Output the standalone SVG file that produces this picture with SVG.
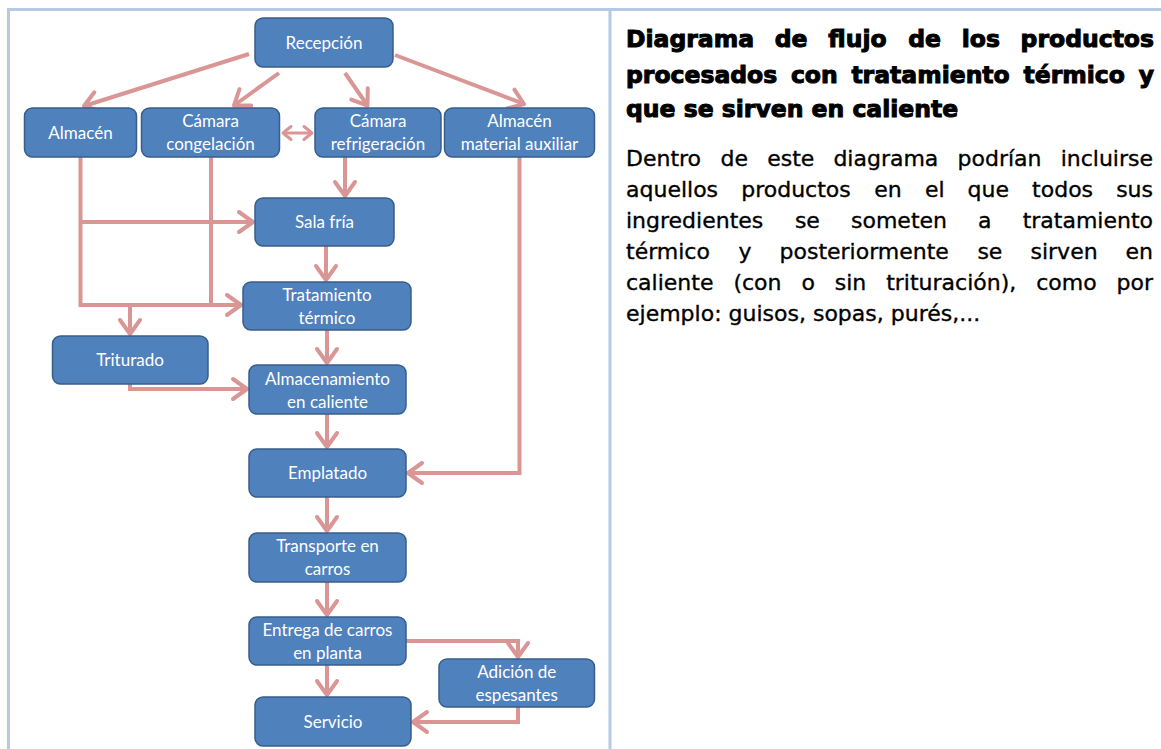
<svg xmlns="http://www.w3.org/2000/svg" width="1161" height="749" viewBox="0 0 1161 749">
<style>
.node rect{fill:#4f81bd;stroke:#385d8a;stroke-width:1.5}
.node text{font-family:Lato,"Liberation Sans",sans-serif;font-size:17px;fill:#ffffff;text-anchor:middle}
.conn path{fill:none;stroke:#d99694;stroke-width:4;stroke-linejoin:miter}
.conn .thin{stroke-width:3}
.ah{fill:none;stroke:#d99694;stroke-width:4;stroke-linejoin:round;stroke-linecap:round}
.ahs{fill:none;stroke:#d99694;stroke-width:3;stroke-linejoin:round;stroke-linecap:round}
.frame{stroke:#b4c9e3;stroke-width:3;fill:none}
.title{font-family:"DejaVu Sans",sans-serif;font-weight:bold;font-size:23.5px;fill:#000;stroke:#000;stroke-width:1}
.body{font-family:"DejaVu Sans",sans-serif;font-size:22px;fill:#000;stroke:#000;stroke-width:0.35}
</style>
<defs>
<marker id="arr" viewBox="-17 -13 20 26" refX="0" refY="0" markerWidth="20" markerHeight="26" markerUnits="userSpaceOnUse" orient="auto">
<path class="ah" d="M-14,-10 L0,0 L-14,10"/>
</marker>
<marker id="arrs" viewBox="-11 -9 14 18" refX="0" refY="0" markerWidth="14" markerHeight="18" markerUnits="userSpaceOnUse" orient="auto-start-reverse">
<path class="ahs" d="M-8,-6.5 L0,0 L-8,6.5"/>
</marker>
</defs>
<rect width="1161" height="749" fill="#ffffff"/>
<g id="frame">
<line class="frame" x1="7" y1="9.5" x2="1161" y2="9.5"/>
<line class="frame" x1="8.5" y1="8" x2="8.5" y2="749"/>
<line class="frame" x1="610" y1="8" x2="610" y2="749"/>
</g>
<g id="connectors" class="conn">
<path d="M249,54 L84,106" marker-end="url(#arr)"/>
<path d="M279,73 L234,105.5" marker-end="url(#arr)"/>
<path d="M345,73 L367.5,105.5" marker-end="url(#arr)"/>
<path d="M395,55 L524,104" marker-end="url(#arr)"/>
<path class="thin" d="M283,133 L312,133" marker-start="url(#arrs)" marker-end="url(#arrs)"/>
<path d="M345,157 L345,196" marker-end="url(#arr)"/>
<path d="M80.5,157 L80.5,305 L241,305" marker-end="url(#arr)"/>
<path d="M211,157 L211,305"/>
<path d="M80.5,222 L253,222" marker-end="url(#arr)"/>
<path d="M130,305 L130,334" marker-end="url(#arr)"/>
<path d="M130,384 L130,389 L247,389" marker-end="url(#arr)"/>
<path d="M326,246 L326,280" marker-end="url(#arr)"/>
<path d="M327,330 L327,363" marker-end="url(#arr)"/>
<path d="M327,414 L327,447" marker-end="url(#arr)"/>
<path d="M519.5,157 L519.5,473 L408,473" marker-end="url(#arr)"/>
<path d="M327,497 L327,531" marker-end="url(#arr)"/>
<path d="M327,582 L327,615" marker-end="url(#arr)"/>
<path d="M406,641 L518,641 L518,657" marker-end="url(#arr)"/>
<path d="M327,658 L327,695" marker-end="url(#arr)"/>
<path d="M518,707 L518,722 L413,722" marker-end="url(#arr)"/>
</g>
<g id="recepcion" class="node"><rect x="255" y="18" width="138" height="49" rx="8"/><text x="324" y="48.5">Recepción</text></g>
<g id="almacen" class="node"><rect x="24.5" y="108" width="112" height="49" rx="8"/><text x="80.5" y="138.5">Almacén</text></g>
<g id="camara-congelacion" class="node"><rect x="141.5" y="108" width="138" height="49" rx="8"/><text x="210.5" y="127">Cámara</text><text x="210.5" y="150">congelación</text></g>
<g id="camara-refrigeracion" class="node"><rect x="315" y="108" width="126" height="49" rx="8"/><text x="378" y="127">Cámara</text><text x="378" y="150">refrigeración</text></g>
<g id="almacen-auxiliar" class="node"><rect x="444.5" y="108" width="150" height="49" rx="8"/><text x="519.5" y="127">Almacén</text><text x="519.5" y="150">material auxiliar</text></g>
<g id="sala-fria" class="node"><rect x="255" y="198" width="139" height="48" rx="8"/><text x="324.5" y="228">Sala fría</text></g>
<g id="tratamiento" class="node"><rect x="243" y="282" width="168" height="48" rx="8"/><text x="327" y="301">Tratamiento</text><text x="327" y="324">térmico</text></g>
<g id="triturado" class="node"><rect x="52.5" y="336" width="155.5" height="48" rx="8"/><text x="130" y="366">Triturado</text></g>
<g id="almacenamiento" class="node"><rect x="249" y="365" width="157" height="49" rx="8"/><text x="327.5" y="384.5">Almacenamiento</text><text x="327.5" y="407.5">en caliente</text></g>
<g id="emplatado" class="node"><rect x="249" y="449" width="157" height="48" rx="8"/><text x="327.5" y="479">Emplatado</text></g>
<g id="transporte" class="node"><rect x="249" y="533" width="157" height="49" rx="8"/><text x="327.5" y="552">Transporte en</text><text x="327.5" y="575">carros</text></g>
<g id="entrega" class="node"><rect x="249" y="617" width="157" height="48" rx="8"/><text x="327.5" y="635.5">Entrega de carros</text><text x="327.5" y="658.5">en planta</text></g>
<g id="adicion" class="node"><rect x="439" y="659" width="155.5" height="48" rx="8"/><text x="516.75" y="677.5">Adición de</text><text x="516.75" y="700.5">espesantes</text></g>
<g id="servicio" class="node"><rect x="255" y="697" width="156" height="49" rx="8"/><text x="333" y="727.5">Servicio</text></g>
<g id="title">
<text class="title" y="46.5"><tspan x="626">Diagrama</tspan><tspan x="774.8">de</tspan><tspan x="828.3">flujo</tspan><tspan x="908.2">de</tspan><tspan x="961.7">los</tspan></text>
<text class="title" x="1154" y="46.5" text-anchor="end">productos</text>
<text class="title" y="82.5"><tspan x="626">procesados</tspan><tspan x="790.9">con</tspan><tspan x="851.4">tratamiento</tspan><tspan x="1023.5">térmico</tspan></text>
<text class="title" x="1154" y="82.5" text-anchor="end">y</text>
<text class="title" x="626" y="117">que se sirven en caliente</text>
</g>
<g id="body">
<text class="body" y="166"><tspan x="626">Dentro</tspan><tspan x="720.6">de</tspan><tspan x="767.2">este</tspan><tspan x="833.4">diagrama</tspan><tspan x="957.5">podrían</tspan></text>
<text class="body" x="1153" y="166" text-anchor="end">incluirse</text>
<text class="body" y="197"><tspan x="626">aquellos</tspan><tspan x="741.2">productos</tspan><tspan x="874.3">en</tspan><tspan x="924.9">el</tspan><tspan x="967.6">que</tspan><tspan x="1032.1">todos</tspan></text>
<text class="body" x="1153" y="197" text-anchor="end">sus</text>
<text class="body" y="228"><tspan x="626">ingredientes</tspan><tspan x="794.9">se</tspan><tspan x="851">someten</tspan><tspan x="978.1">a</tspan></text>
<text class="body" x="1153" y="228" text-anchor="end">tratamiento</text>
<text class="body" y="258.5"><tspan x="626">térmico</tspan><tspan x="738.4">y</tspan><tspan x="779.5">posteriormente</tspan><tspan x="977.4">se</tspan><tspan x="1030.5">sirven</tspan></text>
<text class="body" x="1153" y="258.5" text-anchor="end">en</text>
<text class="body" y="289.5"><tspan x="626">caliente</tspan><tspan x="733.4">(con</tspan><tspan x="801.4">o</tspan><tspan x="834.8">sin</tspan><tspan x="886.2">trituración),</tspan><tspan x="1036.2">como</tspan></text>
<text class="body" x="1153" y="289.5" text-anchor="end">por</text>
<text class="body" x="626" y="320.5">ejemplo: guisos, sopas, purés,...</text>
</g>
</svg>
